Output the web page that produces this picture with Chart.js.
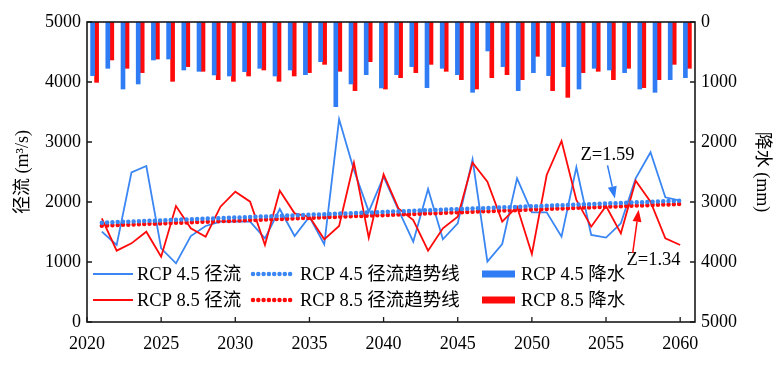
<!DOCTYPE html>
<html>
<head>
<meta charset="utf-8">
<script src="https://cdn.jsdelivr.net/npm/chart.js@4.4.1/dist/chart.umd.min.js"></script>
<style>
  html, body { margin: 0; padding: 0; background: #fff; }
</style>
</head>
<body>
<canvas id="my-canvas" width="782" height="369"></canvas>
<script>
const years = [2021, 2022, 2023, 2024, 2025, 2026, 2027, 2028, 2029, 2030,
  2031, 2032, 2033, 2034, 2035, 2036, 2037, 2038, 2039, 2040,
  2041, 2042, 2043, 2044, 2045, 2046, 2047, 2048, 2049, 2050,
  2051, 2052, 2053, 2054, 2055, 2056, 2057, 2058, 2059, 2060]

// runoff (m3/s)
const runoff45 = [1505, 1283, 2494, 2600, 1228, 978, 1433, 1600, 1672, 1672,
  1672, 1394, 1883, 1433, 1755, 1294, 3378, 2533, 1839, 2422,
  1867, 1339, 2217, 1378, 1644, 2711, 1006, 1300, 2394, 1828,
  1828, 1422, 2578, 1450, 1406, 1644, 2394, 2828, 2078, 2022]
const runoff85 = [1728, 1189, 1311, 1505, 1089, 1933, 1561, 1422, 1922, 2172,
  2005, 1283, 2189, 1811, 1755, 1378, 1600, 2655, 1406, 2461,
  1894, 1700, 1189, 1561, 1755, 2655, 2339, 1672, 1922, 1133,
  2450, 3017, 2033, 1589, 1933, 1478, 2355, 2005, 1394, 1283]

// trend lines, start and end values
const trendYears = [2021, 2060]
const trend45 = [1656, 2022]
const trend85 = [1606, 1967]

// precipitation (mm)
const precip45 = [894, 772, 1117, 1033, 633, 617, 800, 822, 883, 900,
  828, 772, 900, 800, 878, 661, 1411, 1033, 878, 1100,
  878, 744, 1094, 772, 878, 1172, 483, 744, 1144, 844,
  894, 744, 1117, 772, 800, 844, 1117, 1172, 961, 928]
const precip85 = [1006, 633, 772, 844, 617, 989, 744, 822, 961, 989,
  900, 800, 989, 900, 844, 706, 822, 1144, 661, 1117,
  928, 844, 706, 822, 961, 1117, 928, 878, 961, 572,
  1144, 1256, 844, 822, 961, 772, 1094, 961, 706, 772]

const xTicks = [2020, 2025, 2030, 2035, 2040, 2045, 2050, 2055, 2060]
const runoffTicks = [0, 1000, 2000, 3000, 4000, 5000]
const precipTicks = [0, 1000, 2000, 3000, 4000, 5000]

const BLUE = '#2f7cf4'
const BLUE_LINE = '#3a86f3'
const RED = '#ff0a0a'
const FONT = "'Liberation Serif', 'Times New Roman', 'Noto Sans CJK SC', serif"

const pts = (xs, ys) => xs.map((x, i) => ({ x: x, y: ys[i] }))

const ctx = document.querySelector('#my-canvas').getContext('2d')

const frame = {
    id: 'frame',
    afterDatasetsDraw(chart) {
        const { ctx, chartArea: a, scales } = chart
        ctx.save()
        ctx.strokeStyle = '#1a1a1a'
        ctx.lineWidth = 1.6
        ctx.strokeRect(a.left, a.top, a.right - a.left, a.bottom - a.top)
        ctx.lineWidth = 1.3
        ctx.beginPath()
        runoffTicks.forEach(v => {
            const y = scales.y.getPixelForValue(v)
            ctx.moveTo(a.left, y); ctx.lineTo(a.left + 5, y)
        })
        precipTicks.forEach(v => {
            const y = scales.yP.getPixelForValue(v)
            ctx.moveTo(a.right, y); ctx.lineTo(a.right - 5, y)
        })
        xTicks.forEach(v => {
            const x = scales.x.getPixelForValue(v)
            ctx.moveTo(x, a.bottom); ctx.lineTo(x, a.bottom - 5)
        })
        ctx.stroke()
        ctx.restore()
    },
    afterDraw(chart) {
        const { ctx, scales } = chart
        const ds = chart.data.datasets
        ctx.save()

        // legend, 3 columns x 2 rows
        const cols = [
            { x0: 93, len: 40, tx: 137, items: [0, 1] },
            { x0: 253, len: 40, tx: 300, items: [2, 3] },
            { x0: 482, len: 33, tx: 521, items: [4, 5] }
        ]
        const rows = [274, 300]
        ctx.font = '18.5px ' + FONT
        ctx.textBaseline = 'middle'
        ctx.textAlign = 'left'
        cols.forEach(c => {
            c.items.forEach((di, r) => {
                const d = ds[di]
                const y = rows[r]
                ctx.beginPath()
                ctx.setLineDash(d.borderDash || [])
                ctx.lineCap = d.borderCapStyle || 'butt'
                if (d.type === 'bar') {
                    ctx.strokeStyle = d.backgroundColor
                    ctx.lineWidth = 7
                } else {
                    ctx.strokeStyle = d.borderColor
                    ctx.lineWidth = d.borderWidth
                }
                ctx.moveTo(c.x0, y); ctx.lineTo(c.x0 + c.len, y)
                ctx.stroke()
                ctx.setLineDash([])
                ctx.fillStyle = '#000'
                ctx.fillText(d.label, c.tx, y + 1)
            })
        })

        // Mann-Kendall annotations
        const notes = [
            { text: 'Z=1.59', color: BLUE, tx: 2055.1, ty: 2783, from: [2055.1, 2610], to: [2055.6, 2060] },
            { text: 'Z=1.34', color: RED, tx: 2058.2, ty: 1033, from: [2056.8, 1150], to: [2057.2, 1870] }
        ]
        notes.forEach(n => {
            ctx.fillStyle = '#000'
            ctx.textAlign = 'center'
            ctx.font = '18.5px ' + FONT
            ctx.fillText(n.text, scales.x.getPixelForValue(n.tx), scales.y.getPixelForValue(n.ty))
            const x1 = scales.x.getPixelForValue(n.from[0]), y1 = scales.y.getPixelForValue(n.from[1])
            const x2 = scales.x.getPixelForValue(n.to[0]), y2 = scales.y.getPixelForValue(n.to[1])
            const ang = Math.atan2(y2 - y1, x2 - x1)
            const hl = 12, hw = 4.5
            ctx.strokeStyle = n.color
            ctx.fillStyle = n.color
            ctx.lineWidth = 1.5
            ctx.beginPath()
            ctx.moveTo(x1, y1)
            ctx.lineTo(x2 - hl * Math.cos(ang), y2 - hl * Math.sin(ang))
            ctx.stroke()
            ctx.beginPath()
            ctx.moveTo(x2, y2)
            ctx.lineTo(x2 - hl * Math.cos(ang) + hw * Math.sin(ang), y2 - hl * Math.sin(ang) - hw * Math.cos(ang))
            ctx.lineTo(x2 - hl * Math.cos(ang) - hw * Math.sin(ang), y2 - hl * Math.sin(ang) + hw * Math.cos(ang))
            ctx.closePath()
            ctx.fill()
        })
        ctx.restore()
    }
}

const tickFont = { family: FONT, size: 18 }

new Chart(ctx, {
    type: 'bar',
    data: {
        labels: years,
        datasets: [
            {
                type: 'line', label: 'RCP 4.5 径流', data: pts(years, runoff45),
                xAxisID: 'x', yAxisID: 'y', borderColor: BLUE_LINE, borderWidth: 1.8,
                pointRadius: 0, tension: 0, order: 2
            },
            {
                type: 'line', label: 'RCP 8.5 径流', data: pts(years, runoff85),
                xAxisID: 'x', yAxisID: 'y', borderColor: RED, borderWidth: 1.8,
                pointRadius: 0, tension: 0, order: 1
            },
            {
                type: 'line', label: 'RCP 4.5 径流趋势线', data: pts(trendYears, trend45),
                xAxisID: 'x', yAxisID: 'y', borderColor: BLUE_LINE, borderWidth: 4.5,
                borderDash: [0, 5.3], borderCapStyle: 'round', pointRadius: 0, order: 0
            },
            {
                type: 'line', label: 'RCP 8.5 径流趋势线', data: pts(trendYears, trend85),
                xAxisID: 'x', yAxisID: 'y', borderColor: RED, borderWidth: 4.5,
                borderDash: [0, 5.3], borderCapStyle: 'round', pointRadius: 0, order: 0
            },
            {
                type: 'bar', label: 'RCP 4.5 降水', data: precip45,
                xAxisID: 'xb', yAxisID: 'yP', backgroundColor: BLUE,
                barThickness: 4, order: 3
            },
            {
                type: 'bar', label: 'RCP 8.5 降水', data: precip85,
                xAxisID: 'xb', yAxisID: 'yP', backgroundColor: RED,
                barThickness: 4, order: 3
            }
        ]
    },
    options: {
        responsive: false,
        animation: false,
        layout: { padding: { top: 22, left: 0, right: 0, bottom: 0 } },
        plugins: { legend: { display: false }, tooltip: { enabled: false } },
        scales: {
            x: {
                type: 'linear', position: 'bottom', min: 2020, max: 2061, offset: false,
                grid: { display: false, drawTicks: false },
                border: { display: false },
                afterBuildTicks: s => { s.ticks = xTicks.map(v => ({ value: v })) },
                afterFit: s => { s.height = 47 },
                ticks: {
                    color: '#000', padding: 11, maxRotation: 0, autoSkip: false,
                    font: tickFont,
                    callback: v => String(v)
                }
            },
            xb: {
                type: 'category', display: false, offset: true
            },
            y: {
                position: 'left', min: 0, max: 5000,
                grid: { display: false, drawTicks: false },
                border: { display: false },
                afterBuildTicks: s => { s.ticks = runoffTicks.map(v => ({ value: v })) },
                afterFit: s => { s.width = 87 },
                ticks: { color: '#000', padding: 6, font: tickFont, callback: v => String(v) },
                title: {
                    display: true, text: '径流 (m³/s)', color: '#000',
                    font: { family: FONT, size: 18 }, padding: { top: 12, bottom: 0 }
                }
            },
            yP: {
                position: 'right', min: 0, max: 5000, reverse: true,
                grid: { display: false, drawTicks: false },
                border: { display: false },
                afterBuildTicks: s => { s.ticks = precipTicks.map(v => ({ value: v })) },
                afterFit: s => { s.width = 87 },
                ticks: { color: '#000', padding: 6, font: tickFont, callback: v => String(v) },
                title: {
                    display: true, text: '降水 (mm)', color: '#000',
                    font: { family: FONT, size: 18 }, padding: { top: 9, bottom: 0 }
                }
            }
        }
    },
    plugins: [frame]
})
</script>
</body>
</html>
